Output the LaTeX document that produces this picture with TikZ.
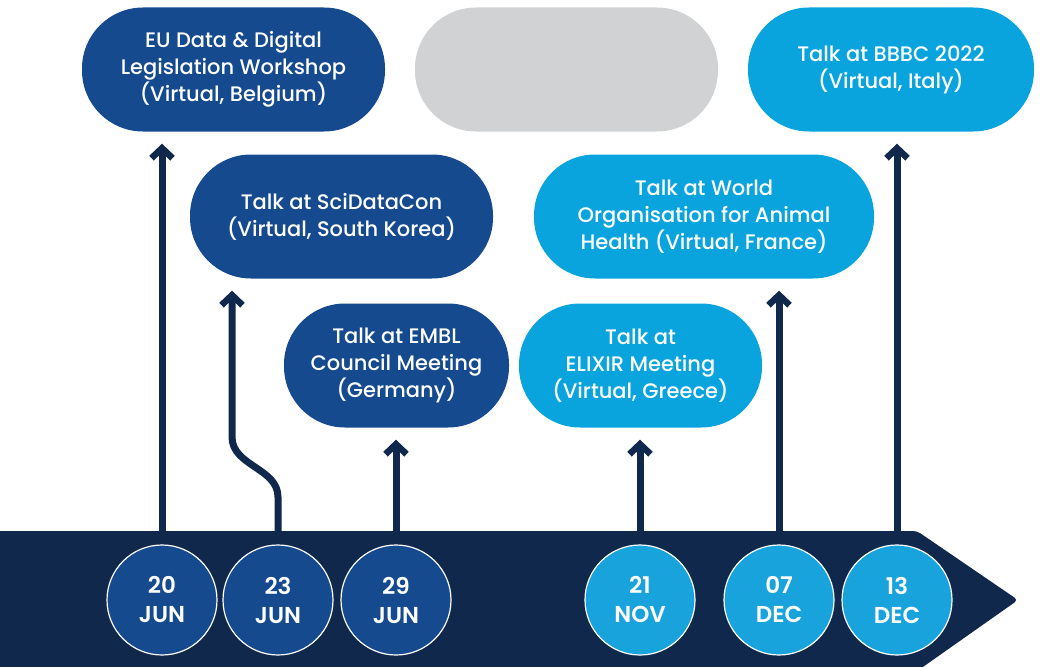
\documentclass[tikz,border=0pt]{standalone}
\usepackage{fontspec}
\setmainfont{Poppins}[BoldFont={Poppins SemiBold}]
\newfontfamily\medfont{Poppins Medium}
\usetikzlibrary{arrows.meta}
\definecolor{navy}{HTML}{10284B}
\definecolor{dblue}{HTML}{154A8E}
\definecolor{lblue}{HTML}{09A4DE}
\definecolor{cblue}{HTML}{19A3DC}
\definecolor{pale}{HTML}{D1D2D4}
\tikzset{
  event/.style={rounded corners=61pt, minimum height=124pt, inner sep=0pt,
    text=white, align=center, font=\medfont\fontsize{21}{27}\selectfont},
  date/.style={circle, minimum size=110pt, inner sep=0pt, draw=white,
    line width=1.2pt, text=white, align=center,
    font=\fontsize{23}{29}\selectfont\bfseries},
  tl/.style={draw=navy, line width=7pt,
    -{Straight Barb[length=10pt,width=21pt,line width=6.5pt]}, shorten >=12pt}
}
\begin{document}
\begin{tikzpicture}[x=1pt,y=-1pt]
          \useasboundingbox (0,0) rectangle (1040,666);
          \node[event, fill=dblue, minimum width=303pt] (eu) at (233.5,69.5)
            {EU Data \& Digital\\Legislation Workshop\\(Virtual, Belgium)};
          \node[event, fill=pale, minimum width=303pt] (blank) at (566.5,69.5) {};
          \node[event, fill=lblue, minimum width=286pt] (bbbc) at (891,69.5)
            {Talk at BBBC 2022\\(Virtual, Italy)};
          \node[event, fill=dblue, minimum width=303pt] (sci) at (341.5,216.5)
            {Talk at SciDataCon\\(Virtual, South Korea)};
          \node[event, fill=lblue, minimum width=340pt] (woah) at (704,216.5)
            {Talk at World\\Organisation for Animal\\Health (Virtual, France)};
          \node[event, fill=dblue, minimum width=225pt] (embl) at (396.5,365.5)
            {Talk at EMBL\\Council Meeting\\(Germany)};
          \node[event, fill=lblue, minimum width=243pt] (elixir) at (640.5,365.5)
            {Talk at\\ELIXIR Meeting\\(Virtual, Greece)};
          \coordinate (d20) at (162,600);
          \coordinate (d23) at (278,600);
          \coordinate (d29) at (396,600);
          \coordinate (d21) at (640,600);
          \coordinate (d07) at (779,600);
          \coordinate (d13) at (897,600);
          \coordinate (s1) at (278,497);
          \coordinate (s2) at (232,437);
          \draw[tl] (d20) -- (d20 |- eu.south);
          \draw[tl] (d23) -- (s1) .. controls (278,468) and (232,466) .. (s2)
            -- (s2 |- sci.south);
          \draw[tl] (d29) -- (d29 |- embl.south);
          \draw[tl] (d21) -- (d21 |- elixir.south);
          \draw[tl] (d07) -- (d07 |- woah.south);
          \draw[tl] (d13) -- (d13 |- bbbc.south);
          \fill[navy, rounded corners=4pt] (0,531) -- (917,531) -- (1018,600)
            -- (920,669) [sharp corners] -- (0,669) -- cycle;
          \node[date, fill=dblue] (c20) at (d20) {20\\JUN};
          \node[date, fill=dblue] (c23) at (d23) {23\\JUN};
          \node[date, fill=dblue] (c29) at (d29) {29\\JUN};
          \node[date, fill=cblue] (c21) at (d21) {21\\NOV};
          \node[date, fill=cblue] (c07) at (d07) {07\\DEC};
          \node[date, fill=cblue] (c13) at (d13) {13\\DEC};
        \end{tikzpicture}
\end{document}
